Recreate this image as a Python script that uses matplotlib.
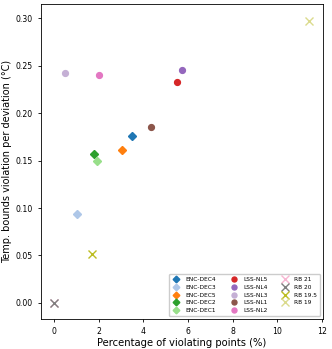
import matplotlib
matplotlib.use("Agg")
import matplotlib.pyplot as plt

# ENC-DEC models (diamonds)
enc_names = ["ENC-DEC4", "ENC-DEC3", "ENC-DEC5", "ENC-DEC2", "ENC-DEC1"]
enc_x = [3.47, 1.02, 3.04, 1.78, 1.93]
enc_y = [0.176, 0.094, 0.161, 0.157, 0.150]
enc_colors = ["#1f77b4", "#aec7e8", "#ff7f0e", "#2ca02c", "#98df8a"]

# LSS-NL models (circles)
lss_names = ["LSS-NL5", "LSS-NL4", "LSS-NL3", "LSS-NL1", "LSS-NL2"]
lss_x = [5.50, 5.72, 0.48, 4.33, 2.01]
lss_y = [0.233, 0.246, 0.242, 0.186, 0.240]
lss_colors = ["#d62728", "#9467bd", "#c5b0d5", "#8c564b", "#e377c2"]

# Rule-based controllers (crosses)
rb_names = ["RB 21", "RB 20", "RB 19.5", "RB 19"]
rb_x = [0.0, 0.0, 1.68, 11.40]
rb_y = [0.0, 0.0, 0.052, 0.2976]
rb_colors = ["#f7b6d2", "#7f7f7f", "#bcbd22", "#dbdb8d"]


def main():
    fig = plt.figure(figsize=(3.32, 3.49), dpi=100)
    ax = fig.add_axes([0.123, 0.086, 0.85, 0.902])

    handles = []
    for name, x, y, c in zip(enc_names, enc_x, enc_y, enc_colors):
        h = ax.errorbar(x, y, xerr=0.08, yerr=0.003, fmt="D", color=c,
                        markersize=4, elinewidth=1, label=name)
        handles.append(h)
    for name, x, y, c in zip(lss_names, lss_x, lss_y, lss_colors):
        h = ax.errorbar(x, y, fmt="o", color=c, markersize=4.2, label=name)
        handles.append(h)
    for name, x, y, c in zip(rb_names, rb_x, rb_y, rb_colors):
        h = ax.errorbar(x, y, fmt="x", color=c, markersize=6, mew=1, label=name)
        handles.append(h)

    ax.set_xlim(-0.6, 12.05)
    ax.set_ylim(-0.017, 0.315)
    ax.set_xticks([0, 2, 4, 6, 8, 10, 12])
    ax.set_yticks([0.0, 0.05, 0.10, 0.15, 0.20, 0.25, 0.30])
    ax.yaxis.set_major_formatter(matplotlib.ticker.FormatStrFormatter("%.2f"))
    ax.tick_params(labelsize=5.6, length=2.5, width=0.6)
    for s in ax.spines.values():
        s.set_linewidth(0.6)

    ax.set_xlabel("Percentage of violating points (%)", fontsize=7.2, labelpad=1)
    ax.set_ylabel("Temp. bounds violation per deviation (°C)", fontsize=7, labelpad=2)

    ax.legend(handles=handles, loc="lower right", ncol=3, fontsize=4.2,
              markerscale=0.85, handlelength=1.5, handletextpad=0.8,
              columnspacing=2.3, labelspacing=0.45, borderpad=0.5,
              borderaxespad=0.5, frameon=True, framealpha=1,
              edgecolor="#cccccc")

    fig.savefig("out.png", dpi=100)


if __name__ == "__main__":
    main()
